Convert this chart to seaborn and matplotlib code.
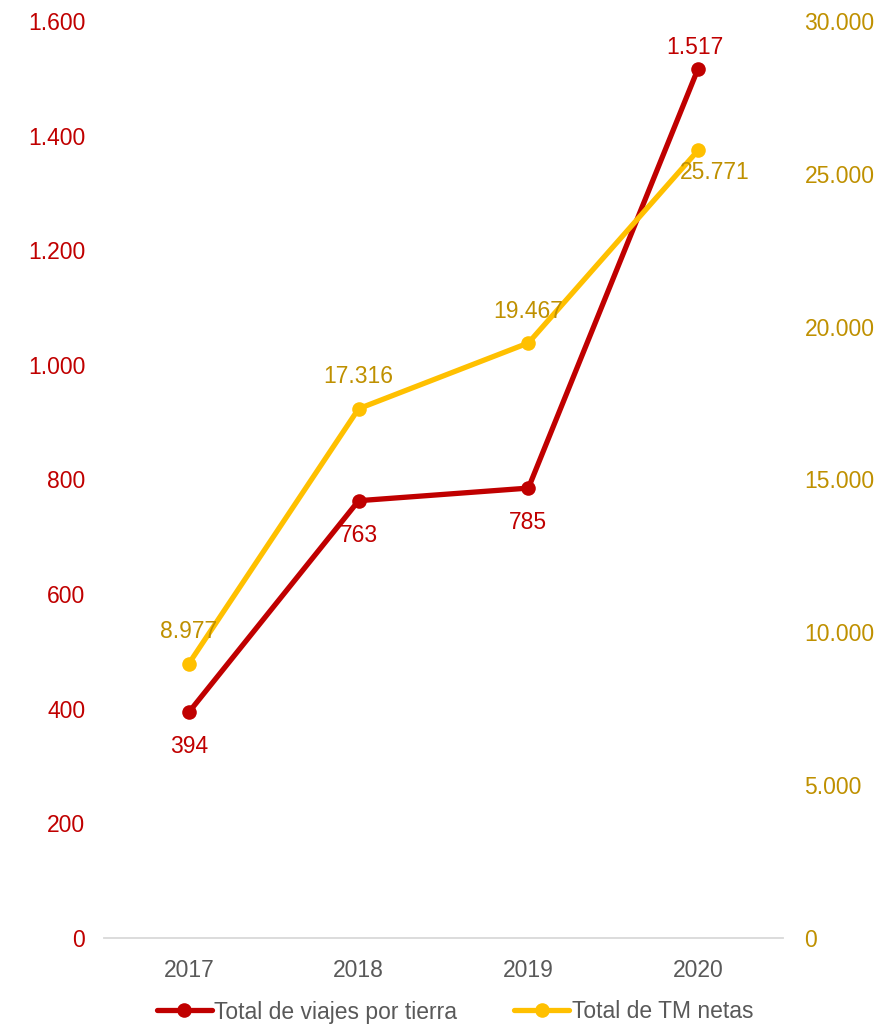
import matplotlib
matplotlib.use("Agg")
import matplotlib.pyplot as plt
from matplotlib.ticker import FuncFormatter
from matplotlib.lines import Line2D
import seaborn as sns
import pandas as pd

years = ["2017", "2018", "2019", "2020"]
viajes = [394, 763, 785, 1517]
toneladas = [8977, 17316, 19467, 25771]

RED = "#C00000"
YELLOW = "#FFC000"
GOLD = "#BF9000"
GRAY = "#595959"
FS = 16.5

sns.set_theme(style="white")
plt.rcParams["font.family"] = ["Liberation Sans", "DejaVu Sans"]

df = pd.DataFrame({"year": years, "viajes": viajes, "tm": toneladas})
df["x"] = range(len(years))

fig = plt.figure(figsize=(8.79, 10.27), dpi=100)
ax = fig.add_axes([104 / 879, 89 / 1027, (783 - 104) / 879, (938 - 21) / 1027])
ax2 = ax.twinx()

sns.lineplot(data=df, x="x", y="viajes", ax=ax, color=RED, linewidth=3.8,
             marker="o", markersize=10.5, markeredgewidth=0, zorder=3)
sns.lineplot(data=df, x="x", y="tm", ax=ax2, color=YELLOW, linewidth=3.8,
             marker="o", markersize=10.5, markeredgewidth=0, zorder=3)

def dotted(v, _pos=None):
    return f"{int(round(v)):,}".replace(",", ".")

ax.set_xlim(-0.5, len(years) - 0.5)
ax.set_ylim(0, 1600)
ax2.set_ylim(0, 30000)
ax.set_yticks(range(0, 1601, 200))
ax2.set_yticks(range(0, 30001, 5000))
ax.yaxis.set_major_formatter(FuncFormatter(dotted))
ax2.yaxis.set_major_formatter(FuncFormatter(dotted))
ax.set_xticks(df["x"])
ax.set_xticklabels(years)

ax.tick_params(axis="y", colors=RED, labelsize=FS, length=0, pad=13.5)
ax2.tick_params(axis="y", colors=GOLD, labelsize=FS, length=0, pad=15.5)
ax.tick_params(axis="x", colors=GRAY, labelsize=FS, length=0, pad=15)
ax.set_xlabel("")
ax.set_ylabel("")
ax2.set_ylabel("")

for a in (ax, ax2):
    for side in ("top", "left", "right", "bottom"):
        a.spines[side].set_visible(False)
ax.spines["bottom"].set_visible(True)
ax.spines["bottom"].set_color("#D9D9D9")
ax.spines["bottom"].set_linewidth(1.3)
ax.grid(False)
ax2.grid(False)

# value labels for trips (left axis)
red_offsets = [(0, -25), (0, -25), (0, -25), (-2, 15)]
for xi, v, (dx, dy) in zip(df["x"], viajes, red_offsets):
    ax.annotate(dotted(v), (xi, v), xytext=(dx, dy), textcoords="offset points",
                ha="center", va="center", color=RED, fontsize=FS)

# value labels for tonnage (right axis)
tm_offsets = [(0, 23), (0, 23), (0, 23), (12, -16)]
for xi, v, (dx, dy) in zip(df["x"], toneladas, tm_offsets):
    ax2.annotate(dotted(v), (xi, v), xytext=(dx, dy), textcoords="offset points",
                 ha="center", va="center", color=GOLD, fontsize=FS)

handles = [
    Line2D([], [], color=RED, linewidth=3.8, marker="o", markersize=10.5, markeredgewidth=0),
    Line2D([], [], color=YELLOW, linewidth=3.8, marker="o", markersize=10.5, markeredgewidth=0),
]
leg = fig.legend(handles, ["Total de viajes por tierra", "Total de TM netas"],
                 loc="center", bbox_to_anchor=(455 / 879, 1 - 1012 / 1027), ncol=2,
                 frameon=False, fontsize=FS, handlelength=2.4, handletextpad=0.1,
                 columnspacing=2.5, borderpad=0.2)
for t in leg.get_texts():
    t.set_color(GRAY)

fig.savefig("out.png", dpi=100)
